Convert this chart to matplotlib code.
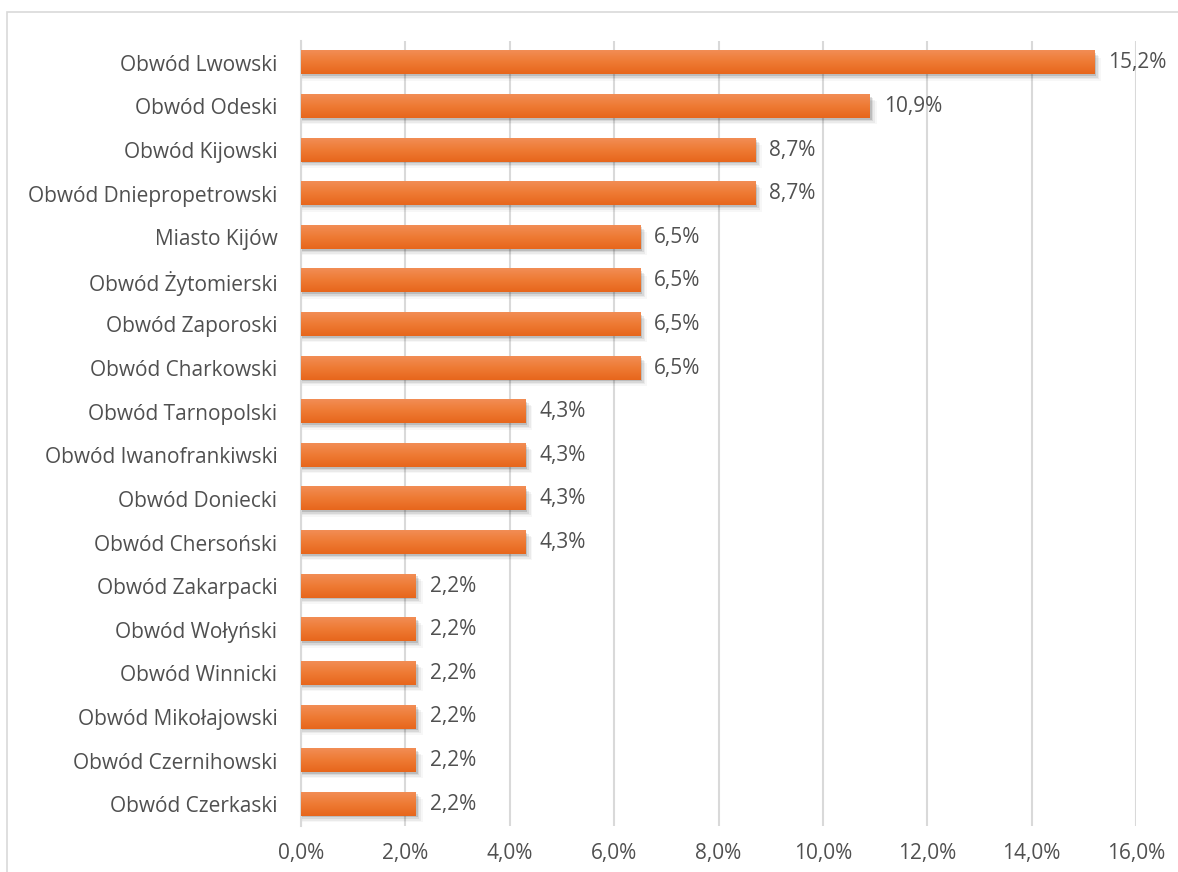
import numpy as np
import matplotlib.pyplot as plt
from matplotlib.patches import Rectangle
from matplotlib.colors import LinearSegmentedColormap

regions = [
    "Obwód Lwowski", "Obwód Odeski", "Obwód Kijowski", "Obwód Dniepropetrowski",
    "Miasto Kijów", "Obwód Żytomierski", "Obwód Zaporoski", "Obwód Charkowski",
    "Obwód Tarnopolski", "Obwód Iwanofrankiwski", "Obwód Doniecki", "Obwód Chersoński",
    "Obwód Zakarpacki", "Obwód Wołyński", "Obwód Winnicki", "Obwód Mikołajowski",
    "Obwód Czernihowski", "Obwód Czerkaski",
]
shares = [15.2, 10.9, 8.7, 8.7, 6.5, 6.5, 6.5, 6.5, 4.3, 4.3, 4.3, 4.3,
          2.2, 2.2, 2.2, 2.2, 2.2, 2.2]
x_ticks = [0, 2, 4, 6, 8, 10, 12, 14, 16]

text_color = "#505050"
grid_color = "#D9D9D9"
bar_cmap = LinearSegmentedColormap.from_list("bar", ["#F28D55", "#EE7A33", "#E7661C"])

plt.rcParams["font.family"] = ["Open Sans", "DejaVu Sans"]

fig = plt.figure(figsize=(11.78, 8.72), dpi=100)
ax = fig.add_axes([301 / 1178, 1 - 826 / 872, (1136 - 301) / 1178, (826 - 41) / 872])

# chart frame
fig.patches.append(Rectangle((7 / 1178, -0.1), 1.2, 1 - 12 / 872 + 0.1,
                             transform=fig.transFigure, fill=False,
                             edgecolor="#D9D9D9", linewidth=1.2))

n = len(regions)
ypos = np.arange(n)
h = 0.53
grad = np.linspace(0, 1, 64).reshape(-1, 1)

for y, v in zip(ypos, shares):
    # soft shadow under each bar
    for k, a in enumerate([0.12, 0.08, 0.05, 0.03]):
        off = 0.04 + k * 0.035
        ax.add_patch(Rectangle((0, y - h / 2 + off), v + 0.04 + k * 0.03, h,
                               facecolor="black", alpha=a, edgecolor="none", zorder=2))
    ax.imshow(grad, cmap=bar_cmap, aspect="auto",
              extent=(0, v, y + h / 2, y - h / 2), zorder=3, interpolation="bicubic")
    ax.text(v + 0.27, y, f"{v:.1f}%".replace(".", ","), va="center", ha="left",
            fontsize=15, color=text_color, zorder=4)

ax.set_xlim(0, 16)
ax.set_ylim(n - 0.5, -0.5)
ax.set_xticks(x_ticks)
ax.set_xticklabels([f"{t:.1f}%".replace(".", ",") for t in x_ticks])
ax.set_yticks(ypos)
ax.set_yticklabels(regions)
ax.tick_params(axis="both", length=0, labelsize=15, colors=text_color)
ax.tick_params(axis="y", pad=17)
ax.tick_params(axis="x", pad=12)
ax.xaxis.grid(True, color=grid_color, linewidth=1.5, zorder=0)
ax.set_axisbelow(True)
for s in ["top", "right", "bottom"]:
    ax.spines[s].set_visible(False)
ax.spines["left"].set_color(grid_color)
ax.spines["left"].set_linewidth(1.5)

fig.savefig("out.png", dpi=100)
